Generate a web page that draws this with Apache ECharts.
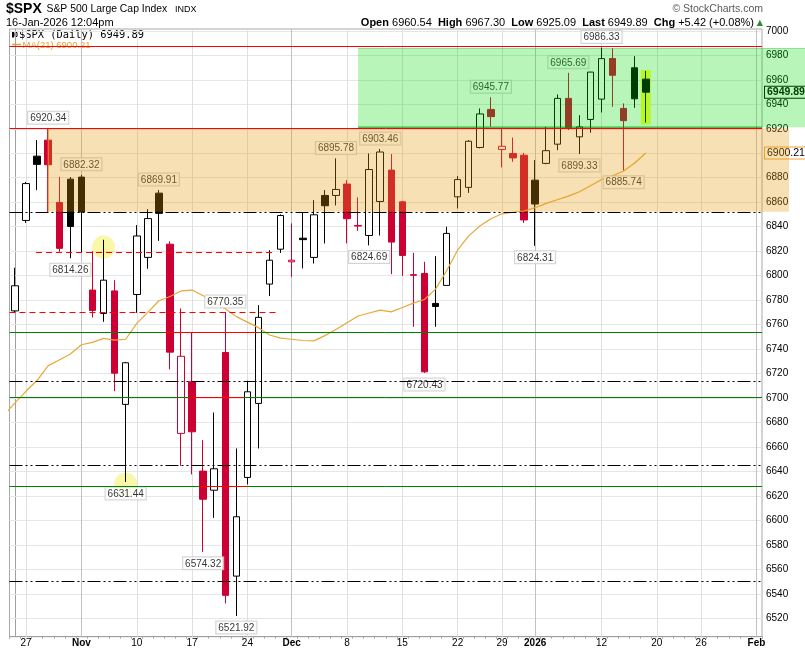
<!DOCTYPE html>
<html><head><meta charset="utf-8">
<script src="https://cdn.jsdelivr.net/npm/echarts@6/dist/echarts.min.js"></script>
<style>html,body{margin:0;padding:0;background:#fff}#c{width:805px;height:651px}</style>
</head><body><div id="c"></div>
<script>
// ---------------- data ----------------
const dates = ['2025-10-24','2025-10-27','2025-10-28','2025-10-29','2025-10-30','2025-10-31',
'2025-11-03','2025-11-04','2025-11-05','2025-11-06','2025-11-07','2025-11-10','2025-11-11','2025-11-12','2025-11-13','2025-11-14',
'2025-11-17','2025-11-18','2025-11-19','2025-11-20','2025-11-21','2025-11-24','2025-11-25','2025-11-26','2025-11-28',
'2025-12-01','2025-12-02','2025-12-03','2025-12-04','2025-12-05','2025-12-08','2025-12-09','2025-12-10','2025-12-11','2025-12-12',
'2025-12-15','2025-12-16','2025-12-17','2025-12-18','2025-12-19','2025-12-22','2025-12-23','2025-12-24','2025-12-26',
'2025-12-29','2025-12-30','2025-12-31','2026-01-02','2026-01-05','2026-01-06','2026-01-07','2026-01-08','2026-01-09',
'2026-01-12','2026-01-13','2026-01-14','2026-01-15','2026-01-16','2026-01-20','2026-01-21','2026-01-22','2026-01-23',
'2026-01-26','2026-01-27','2026-01-28','2026-01-29','2026-01-30','2026-02-02'];
const opens = [6771.2,6845.1,6897.6,6910.7,6859.8,6878.8,6880.5,6788.2,6769.1,6787.5,6694.8,6784.6,6814.9,6867.4,6825.7,6671.1,
6713.2,6640.3,6624.7,6737.2,6554.5,6635.1,6695.6,6793.1,6821.6,6811.3,6830.6,6814.9,6865.5,6865.5,6874.8,6841.0,6832.8,6860.6,
6886.2,6860.3,6800.8,6801.8,6777.3,6792.0,6864.4,6872.1,6904.7,6935.8,6903.1,6899.8,6898.4,6878.0,6891.7,6907.4,6944.8,6913.4,
6927.6,6944.2,6977.4,6936.6,6969.8,6960.54];
const closes = [6791.7,6875.2,6890.9,6890.6,6822.3,6840.2,6852.0,6771.6,6796.3,6720.3,6728.8,6832.4,6846.6,6850.9,6737.5,6734.1,
6672.4,6617.3,6642.2,6538.8,6603.0,6705.1,6765.9,6812.6,6849.1,6812.6,6829.4,6849.7,6857.1,6870.4,6846.5,6840.5,6886.7,6901.0,
6827.4,6816.5,6800.3,6721.4,6774.8,6834.5,6878.5,6909.8,6932.1,6929.9,6905.7,6896.2,6845.5,6858.5,6902.1,6944.8,6920.9,6921.5,
6966.3,6977.3,6963.7,6926.6,6944.47,6949.89];
const lows = [6770.0,6843.1,6869.8,6851.6,6819.5,6814.26,6819.2,6765.8,6762.3,6705.6,6631.44,6769.6,6805.6,6828.4,6723.4,6644.6,
6637.6,6574.32,6602.1,6532.2,6521.92,6629.4,6658.8,6783.3,6818.6,6799.0,6805.9,6809.9,6826.3,6857.3,6826.3,6836.6,6824.69,6832.8,
6801.2,6799.8,6758.2,6720.43,6758.2,6792.0,6854.9,6867.6,6904.0,6921.6,6888.4,6893.0,6843.1,6824.31,6891.0,6902.5,6918.9,6899.33,
6916.7,6933.3,6937.9,6885.74,6937.1,6925.09];
const highs = [6806.4,6876.6,6910.7,6920.34,6880.7,6880.5,6882.32,6820.0,6829.3,6796.3,6729.5,6841.3,6854.3,6869.91,6828.0,6773.2,
6753.3,6665.6,6688.2,6770.35,6658.8,6714.1,6775.9,6820.8,6850.0,6842.7,6851.6,6861.7,6869.9,6895.78,6878.0,6863.9,6899.8,6903.46,
6899.3,6861.1,6818.6,6811.3,6815.9,6839.9,6881.3,6910.7,6936.6,6945.77,6920.3,6912.9,6900.3,6894.4,6921.6,6948.0,6965.69,6931.1,
6966.5,6986.33,6985.6,6940.7,6979.3,6967.30];
const closeBeforeFirst = 6738.4;
// MA(21): first value belongs to the session before the first candle
const maValues = [6686,6696,6705.7,6714.5,6726.5,6731,6736,6743.5,6745.5,6748.7,6747.3,6748,6761,6770,6779.5,6783,6787.5,6788.2,
6783.5,6778,6773,6766.5,6762,6757.5,6751.5,6749,6748,6747,6746.7,6751,6756,6761.5,6767,6769.5,6771.8,6770.4,6774,6777.5,6780.5,
6789,6804,6821,6832.5,6840.5,6846.5,6850.5,6851.8,6852.8,6855.5,6859,6862,6865,6868.5,6873.5,6878.5,6881.5,6885.5,6892,6900.21];
const yTicks = [6520,6540,6560,6580,6600,6620,6640,6660,6680,6700,6720,6740,6760,6780,6800,6820,6840,6860,6880,6900,6920,6940,6960,6980,7000];
const xTickLabels = [['2025-10-27','27'],['2025-11-03','Nov'],['2025-11-10','10'],['2025-11-17','17'],['2025-11-24','24'],
['2025-12-01','Dec'],['2025-12-08','8'],['2025-12-15','15'],['2025-12-22','22'],['2025-12-29','29'],['2026-01-02','2026'],
['2026-01-12','12'],['2026-01-20','20'],['2026-01-26','26'],['2026-02-02','Feb']];
const labelsAbove = [['2025-10-29',6920.34],['2025-11-03',6882.32],['2025-11-12',6869.91],['2025-11-20',6770.35],['2025-12-05',6895.78],
['2025-12-11',6903.46],['2025-12-26',6945.77],['2026-01-07',6965.69],['2026-01-12',6986.33]];
const labelsBelow = [['2025-10-31',6814.26],['2025-11-07',6631.44],['2025-11-18',6574.32],['2025-11-21',6521.92],['2025-12-10',6824.69],
['2025-12-17',6720.43],['2026-01-02',6824.31],['2026-01-08',6899.33],['2026-01-14',6885.74]];
const orangeZone = ['2025-10-29', 6852.2, 6920.34];
const greenZone = ['2025-12-09', 6921.3, 6985.6];
const redLevels = [6987.0, 6920.34];
const greenLevels = [6753.6, 6700.6, 6627.8];
const dashDotLevels = [6851.6, 6713.4, 6644.9, 6550.2];
const redDashedSegments = [[1.9, 23.3, 6819.0], [-0.5, 23.8, 6770.35]];
const redSolidSegments = [[13.5, 22.0, 6753.6], [15.8, 20.6, 6700.6], [16.7, 21.0, 6627.8]];
const circleMarks = [['2025-11-05', 6823.3], ['2025-11-07', 6629.7]];
const highlightBar = ['2026-01-16', 6923.5, 6968.0];

// ---------------- chart ----------------
const idx = d => dates.indexOf(d);
const last = closes.length - 1;
const lastClose = closes[last];
const lastMA = maValues[maValues.length - 1];
const RED = '#cc0033';
const FONT = '"Liberation Sans", Arial, sans-serif';

const candleData = opens.map((o, i) => {
  const c = closes[i];
  const prev = i ? closes[i - 1] : closeBeforeFirst;
  const col = c >= prev ? '#000000' : RED;
  const fill = c > o ? '#ffffff' : col;
  return { value: [o, c, lows[i], highs[i]], itemStyle: { color: fill, color0: fill, borderColor: col, borderColor0: col, borderWidth: 1 } };
});

const tickMap = {};
xTickLabels.forEach(([d, t]) => { tickMap[d] = { text: t, bold: !/^\d{1,2}$/.test(t) }; });

const gridLines = [];
yTicks.forEach(v => gridLines.push({ yAxis: v, lineStyle: { color: '#e6e6e6', width: 1, type: 'solid' } }));
xTickLabels.forEach(([d]) => gridLines.push({ xAxis: idx(d), lineStyle: { color: tickMap[d].bold ? '#c2c2c2' : '#e0e0e0', width: 1, type: 'solid' } }));

const annLines = [];
const DASHDOT = [13, 3, 2, 3, 2, 3];
redLevels.forEach(v => annLines.push({ yAxis: v, lineStyle: { color: '#ff0000', width: 1, type: 'solid' } }));
greenLevels.forEach(v => annLines.push({ yAxis: v, lineStyle: { color: '#008000', width: 1, type: 'solid' } }));
dashDotLevels.forEach(v => annLines.push({ yAxis: v, lineStyle: { color: '#000000', width: 1.2, type: DASHDOT } }));
redDashedSegments.forEach(([a, b, v]) => {
  const ls = { color: '#ff0000', width: 1.2, type: [6, 4] };
  annLines.push([{ coord: [a, v], lineStyle: ls }, { coord: [b, v], lineStyle: ls }]);
});
redSolidSegments.forEach(([a, b, v]) => {
  const ls = { color: '#ff0000', width: 1, type: 'solid' };
  annLines.push([{ coord: [a, v], lineStyle: ls }, { coord: [b, v], lineStyle: ls }]);
});

function valueLabelSeries(list, pos) {
  return {
    type: 'scatter', xAxisIndex: 1, z: 4, silent: true, symbolSize: 1,
    itemStyle: { color: 'rgba(0,0,0,0)' },
    data: list.map(([d, v]) => [idx(d), v]),
    label: {
      show: true, position: pos, distance: pos === 'top' ? 4 : 5,
      formatter: p => p.value[1].toFixed(2),
      backgroundColor: '#ffffff', borderColor: '#c8c8c8', borderWidth: 1, padding: [1, 2, 0, 2],
      fontSize: 10, fontFamily: FONT, color: '#000', lineHeight: 11
    }
  };
}

function zoneSeries(zone, fill, stroke, rightInset, kind) {
  return {
    type: 'custom', xAxisIndex: 1, yAxisIndex: 0, z: 20, silent: true, clip: false,
    data: [[idx(zone[0]), zone[1], zone[2]]],
    renderItem(params, api) {
      const tl = api.coord([api.value(0), api.value(2)]);
      const br = api.coord([api.value(0), api.value(1)]);
      const right = api.getWidth() - rightInset;
      const plotRight = api.coord([67.5, api.value(1)])[0];
      const children = [{ type: 'rect', shape: { x: tl[0], y: tl[1], width: right - tl[0], height: br[1] - tl[1] }, style: { fill: fill } }];
      if (kind === 'orange') {
        children.push({ type: 'line', shape: { x1: tl[0], y1: tl[1], x2: tl[0], y2: br[1] }, style: { stroke: stroke, lineWidth: 1 } });
      } else {
        children.push({ type: 'line', shape: { x1: tl[0], y1: tl[1], x2: right, y2: tl[1] }, style: { stroke: 'rgba(0,170,0,0.35)', lineWidth: 1 } });
        children.push({ type: 'line', shape: { x1: tl[0], y1: br[1], x2: plotRight, y2: br[1] }, style: { stroke: stroke, lineWidth: 1 } });
      }
      return { type: 'group', children };
    }
  };
}

const chg = lastClose - closes[last - 1];
const chgPct = chg / closes[last - 1] * 100;
const headerRight = '{b|Open} ' + opens[last].toFixed(2) + '  {b|High} ' + highs[last].toFixed(2) + '  {b|Low} ' + lows[last].toFixed(2) +
  '  {b|Last} ' + lastClose.toFixed(2) + '  {b|Chg} ' + (chg >= 0 ? '+' : '') + chg.toFixed(2) + ' (' + (chgPct >= 0 ? '+' : '') + chgPct.toFixed(2) + '%)';

const chart = echarts.init(document.getElementById('c'));
chart.setOption({
  animation: false,
  backgroundColor: '#ffffff',
  grid: { left: 9.5, right: 43, top: 29, bottom: 14.3, show: true, borderColor: '#a8a8a8', borderWidth: 1, backgroundColor: 'transparent' },
  xAxis: [
    {
      type: 'category', data: dates, boundaryGap: true,
      axisLine: { show: true, lineStyle: { color: '#a0a0a0' } },
      axisTick: { show: true, interval: 0, length: 2, lineStyle: { color: '#a8a8a8' } },
      axisLabel: {
        interval: (i, v) => !!tickMap[v], margin: 2, fontSize: 10, fontFamily: FONT, color: '#000',
        formatter: v => tickMap[v] ? (tickMap[v].bold ? '{b|' + tickMap[v].text + '}' : tickMap[v].text) : '',
        rich: { b: { fontWeight: 'bold', fontSize: 10, fontFamily: FONT, color: '#000' } }
      },
      splitLine: { show: false }
    },
    { type: 'value', min: -0.5, max: 67.5, show: false, gridIndex: 0 }
  ],
  yAxis: {
    type: 'value', position: 'right', min: 6505, max: 7001.5, scale: true,
    axisLine: { show: true, lineStyle: { color: '#a0a0a0' } },
    axisTick: { show: true, length: 3, customValues: yTicks, lineStyle: { color: '#a0a0a0' } },
    axisLabel: { customValues: yTicks, margin: 4, fontSize: 10, fontFamily: FONT, color: '#000', formatter: v => String(v) },
    splitLine: { show: false }
  },
  graphic: [
    { type: 'text', x: 6, y: 9.5, z: 0, style: { text: '$SPX', font: 'bold 14px ' + FONT, fill: '#000', verticalAlign: 'middle' } },
    { type: 'text', x: 46.5, y: 9.5, z: 0, style: { text: 'S&P 500 Large Cap Index', font: '10.4px ' + FONT, fill: '#000', verticalAlign: 'middle' } },
    { type: 'text', x: 175, y: 10, z: 0, style: { text: 'INDX', font: '9px ' + FONT, fill: '#000', verticalAlign: 'middle' } },
    { type: 'text', x: 6, y: 22.5, z: 0, style: { text: '16-Jan-2026 12:04pm', font: '11px ' + FONT, fill: '#000', verticalAlign: 'middle' } },
    { type: 'text', x: 754, y: 23, z: 0, style: { text: headerRight, font: '11px ' + FONT, fill: '#000', align: 'right', verticalAlign: 'middle',
        rich: { b: { fontWeight: 'bold', fontSize: 11, fontFamily: FONT, fill: '#000' } } } },
    { type: 'text', x: 763, y: 22.5, z: 0, style: { text: '\u25B2', font: '8px "DejaVu Sans"', fill: '#2e8b2e', align: 'right', verticalAlign: 'middle' } },
    { type: 'text', x: 763, y: 9.5, z: 0, style: { text: '\u00A9 StockCharts.com', font: '10.5px ' + FONT, fill: '#5a5a5a', align: 'right', verticalAlign: 'middle' } },
    { type: 'rect', z: 0, shape: { x: 12, y: 31.5, width: 2, height: 6 }, style: { fill: '#000' } },
    { type: 'rect', z: 0, shape: { x: 15, y: 32.5, width: 2, height: 4 }, style: { fill: '#fff', stroke: '#000', lineWidth: 1 } },
    { type: 'text', x: 19, y: 35, z: 0, style: { text: '$SPX (Daily) ' + lastClose.toFixed(2), font: '10.4px "DejaVu Sans Mono"', fill: '#000', verticalAlign: 'middle' } },
    { type: 'line', z: 0, shape: { x1: 12, y1: 44.5, x2: 21, y2: 44.5 }, style: { stroke: '#e8a030', lineWidth: 1.5 } },
    { type: 'text', x: 22.5, y: 45.5, z: 0, style: { text: 'MA(21) ' + lastMA.toFixed(2), font: '9.5px ' + FONT, fill: '#e8a030', verticalAlign: 'middle' } }
  ],
  series: [
    { type: 'line', xAxisIndex: 1, data: [], silent: true,
      markLine: { z: 1, silent: true, symbol: ['none', 'none'], label: { show: false }, animation: false, data: gridLines } },
    { type: 'scatter', xAxisIndex: 1, z: 2, silent: true, symbolSize: 23, itemStyle: { color: 'rgba(240,230,0,0.42)' },
      data: circleMarks.map(([d, p]) => [idx(d), p]) },
    { type: 'custom', xAxisIndex: 1, z: 2, silent: true,
      data: [[idx(highlightBar[0]), highlightBar[1], highlightBar[2]]],
      renderItem(params, api) {
        const a = api.coord([api.value(0) - 0.45, api.value(2)]);
        const b = api.coord([api.value(0) + 0.45, api.value(1)]);
        return { type: 'rect', shape: { x: a[0], y: a[1], width: b[0] - a[0], height: b[1] - a[1] }, style: { fill: 'rgb(255,255,60)' } };
      } },
    { type: 'candlestick', xAxisIndex: 0, z: 3, barWidth: 7, silent: true, data: candleData },
    { type: 'line', xAxisIndex: 1, z: 4, silent: true, symbol: 'none', data: maValues.map((v, i) => [i - 1, v]),
      lineStyle: { color: '#e8a838', width: 1.2 } },
    valueLabelSeries(labelsAbove, 'top'),
    valueLabelSeries(labelsBelow, 'bottom'),
    { type: 'line', xAxisIndex: 1, data: [], silent: true,
      markLine: { z: 6, silent: true, symbol: ['none', 'none'], animation: false, lineStyle: { color: 'rgba(0,0,0,0)', width: 0 },
        data: [
          { yAxis: lastClose, lineStyle: { color: 'rgba(0,0,0,0)' }, label: { show: true, position: 'end', distance: 3, formatter: lastClose.toFixed(2),
              backgroundColor: '#ffffff', borderColor: '#000', borderWidth: 1, padding: [1, 2, 0, 2], lineHeight: 10,
              fontSize: 10.5, fontWeight: 'bold', fontFamily: FONT, color: '#000' } },
          { yAxis: lastMA, lineStyle: { color: 'rgba(0,0,0,0)' }, label: { show: true, position: 'end', distance: 3, formatter: lastMA.toFixed(2),
              backgroundColor: '#ffffff', borderColor: '#f0a030', borderWidth: 1, padding: [1, 2, 0, 2], lineHeight: 10,
              fontSize: 10.5, fontFamily: FONT, color: '#000' } }
        ] } },
    zoneSeries(orangeZone, 'rgba(228,152,8,0.3)', '#f08a30', 16, 'orange'),
    zoneSeries(greenZone, 'rgba(0,220,0,0.28)', '#009a00', 0, 'green'),
    { type: 'line', xAxisIndex: 1, data: [], silent: true,
      markLine: { z: 25, silent: true, symbol: ['none', 'none'], label: { show: false }, animation: false, data: annLines } }
  ]
});
</script>
</body></html>
